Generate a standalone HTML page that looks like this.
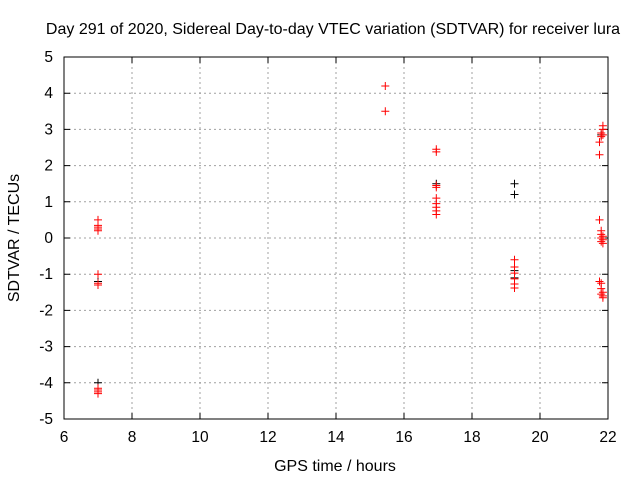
<!DOCTYPE html>
<html><head><meta charset="utf-8"><style>
html,body{margin:0;padding:0;background:#fff;}
svg{display:block;font-family:"Liberation Sans",sans-serif;}
</style></head><body>
<svg id="chart" width="640" height="480" viewBox="0 0 640 480">
<text x="333" y="34" font-size="16" text-anchor="middle">Day 291 of 2020, Sidereal Day-to-day VTEC variation (SDTVAR) for receiver lura</text>
<text x="335" y="471" font-size="16" text-anchor="middle">GPS time / hours</text>
<text transform="translate(19,238) rotate(-90)" font-size="16" text-anchor="middle">SDTVAR / TECUs</text>
<g id="grid"></g><g id="ticks"></g><g id="marks"></g>
<rect x="64" y="57" width="544" height="362" fill="none" stroke="#000" stroke-width="1"/>
</svg>
<script>
const xTicks=[6,8,10,12,14,16,18,20,22];
const yTicks=[-5,-4,-3,-2,-1,0,1,2,3,4,5];
const redX=[7,7,7,7,7,7,7,7,7,7,7,7,15.45,15.45,16.95,16.95,16.95,16.95,16.95,16.95,16.95,16.95,16.95,19.25,19.25,19.25,19.25,19.25,19.25,21.85,21.85,21.8,21.85,21.8,21.75,21.75,21.75,21.8,21.8,21.85,21.8,21.85,21.8,21.85,21.75,21.8,21.8,21.85,21.8,21.85,21.85];
const redY=[0.5,0.35,0.3,0.25,0.2,-1.0,-1.25,-1.3,-4.15,-4.2,-4.25,-4.3,4.2,3.5,2.45,2.38,1.45,1.4,1.1,0.95,0.85,0.75,0.65,-0.6,-0.8,-0.97,-1.13,-1.27,-1.38,3.1,3.0,2.9,2.85,2.8,2.65,2.3,0.5,0.2,0.1,0.05,0,-0.05,-0.1,-0.15,-1.2,-1.25,-1.4,-1.5,-1.55,-1.6,-1.65];
const blackX=[7,7,16.95,19.25,19.25,19.25,19.25,21.8];
const blackY=[-1.2,-4.0,1.5,1.5,1.2,-0.9,-1.1,2.85];
const X=v=>64+(v-6)*34, Y=v=>238-v*36.2;
const ns="http://www.w3.org/2000/svg";
const grid=document.getElementById('grid'),ticks=document.getElementById('ticks'),marks=document.getElementById('marks');
function mk(tag,attrs,parent){const e=document.createElementNS(ns,tag);for(const k in attrs)e.setAttribute(k,attrs[k]);parent.appendChild(e);return e;}
xTicks.forEach(t=>{const x=X(t);
 if(t>6&&t<22){const g=mk('line',{x1:x,y1:57,x2:x,y2:419,stroke:'#a0a0a0','stroke-dasharray':'2,3'},grid);
 
 }
 const a=mk('path',{d:`M${x},419v-6M${x},57v6`,stroke:'#000'},ticks);
 
 
 const l=mk('text',{x:x,y:442,'font-size':15.5,'text-anchor':'middle'},ticks);l.textContent=t;
 
 
});
yTicks.forEach(t=>{const y=Y(t);
 if(t>-5&&t<5){const g=mk('line',{x1:64,y1:y,x2:608,y2:y,stroke:'#a0a0a0','stroke-dasharray':'2,3'},grid);
 
 }
 const a=mk('path',{d:`M64,${y}h6M608,${y}h-6`,stroke:'#000'},ticks);
 
 
 const l=mk('text',{x:53,y:y+5,'font-size':15.5,'text-anchor':'end'},ticks);l.textContent=t;
 
 
});
function plus(xs,ys,col,name){xs.forEach((v,i)=>{const x=X(v),y=Y(ys[i]);
 const p=mk('path',{d:`M${x-4},${y}h8M${x},${y-4}v8`,stroke:col,'stroke-width':1},marks);
 
 });}
plus(blackX,blackY,'#000','point-black');
plus(redX,redY,'#ff0000','point-red');
</script>
</body></html>
